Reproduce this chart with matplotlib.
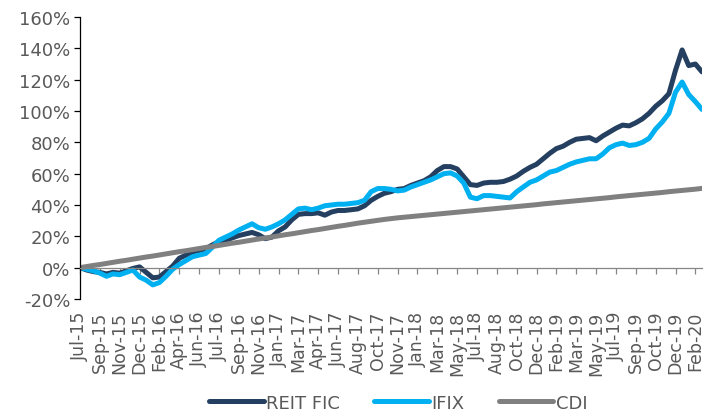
import matplotlib.pyplot as plt
from matplotlib.ticker import FuncFormatter

# cumulative return (%), one value every ~3 weeks, Jul-15 .. Feb-20
REIT_FIC = [
    0.0, -1.5, -2.5, -3.0, -4.0, -3.0, -3.5, -2.0, -0.5, 0.5,
    -3.0, -6.5, -6.0, -2.5, 1.0, 6.0, 8.0, 10.0, 11.0, 12.0,
    14.5, 16.5, 17.5, 19.0, 20.5, 21.5, 22.5, 21.0, 18.5, 19.5,
    23.5, 26.0, 30.5, 34.0, 34.5, 34.5, 35.0, 33.5, 35.5, 36.5,
    36.5, 37.0, 37.5, 39.5, 43.0, 45.5, 47.5, 48.5, 50.0, 50.5,
    52.5, 54.0, 55.5, 58.0, 62.0, 64.5, 64.5, 63.0, 58.0, 53.0,
    52.5, 54.0, 54.5, 54.5, 55.0, 56.5, 58.5, 61.5, 64.0, 66.0,
    69.5, 73.0, 76.0, 77.5, 80.0, 82.0, 82.5, 83.0, 81.0, 84.0,
    86.5, 89.0, 91.0, 90.5, 92.5, 95.0, 98.5, 103.0, 106.5, 111.0,
    126.0, 139.0, 129.0, 130.0, 125.0,
]
IFIX = [
    0.0, -1.0, -2.0, -3.5, -5.5, -4.0, -4.5, -3.0, -1.5, -6.0,
    -8.0, -11.0, -9.5, -5.5, -1.0, 2.0, 4.5, 7.0, 8.0, 9.0,
    13.0, 17.5, 19.5, 21.5, 24.0, 26.0, 28.0, 25.5, 24.5, 26.0,
    28.0, 30.5, 34.0, 37.5, 38.0, 37.0, 38.0, 39.5, 40.0, 40.5,
    40.5, 41.0, 41.5, 43.0, 48.5, 50.5, 50.5, 50.0, 49.0, 49.5,
    51.5, 53.0, 54.5, 56.0, 58.0, 60.0, 60.5, 58.5, 54.0, 45.0,
    44.0, 46.0, 46.0, 45.5, 45.0, 44.5, 48.5, 51.5, 54.5, 56.0,
    58.5, 61.0, 62.0, 64.0, 66.0, 67.5, 68.5, 69.5, 69.5, 72.5,
    76.5, 78.5, 79.5, 78.0, 78.5, 80.0, 82.5, 88.5, 93.0, 98.5,
    112.0, 118.5, 110.5, 106.0, 101.0,
]
CDI = [
    0.0, 0.7, 1.4, 2.0, 2.7, 3.4, 4.1, 4.7, 5.4, 6.1,
    6.8, 7.4, 8.1, 8.8, 9.5, 10.2, 10.8, 11.5, 12.2, 12.9,
    13.5, 14.2, 14.9, 15.6, 16.2, 16.9, 17.6, 18.3, 18.9, 19.6,
    20.3, 21.0, 21.6, 22.3, 23.0, 23.7, 24.3, 25.0, 25.7, 26.4,
    27.0, 27.7, 28.4, 29.0, 29.6, 30.2, 30.8, 31.3, 31.8, 32.2,
    32.6, 33.0, 33.4, 33.8, 34.2, 34.6, 35.0, 35.4, 35.8, 36.2,
    36.6, 37.0, 37.4, 37.8, 38.2, 38.6, 39.0, 39.4, 39.8, 40.2,
    40.7, 41.1, 41.5, 41.9, 42.3, 42.7, 43.1, 43.5, 43.9, 44.3,
    44.7, 45.2, 45.6, 46.0, 46.4, 46.8, 47.2, 47.6, 48.0, 48.5,
    48.9, 49.3, 49.7, 50.1, 50.6,
]
TICK_LABELS = [
    "Jul-15", "Sep-15", "Nov-15", "Dec-15", "Feb-16", "Apr-16", "Jun-16", "Jul-16",
    "Sep-16", "Nov-16", "Jan-17", "Mar-17", "Apr-17", "Jun-17", "Aug-17", "Oct-17",
    "Nov-17", "Jan-18", "Mar-18", "May-18", "Jul-18", "Aug-18", "Oct-18", "Dec-18",
    "Feb-19", "Mar-19", "May-19", "Jul-19", "Sep-19", "Oct-19", "Dec-19", "Feb-20",
]
TICK_EVERY = 3

x = list(range(len(REIT_FIC)))

fig = plt.figure(figsize=(7.05, 4.14), dpi=100)
ax = fig.add_axes([0.1135, 0.2754, 0.8822, 0.6811])

ax.plot(x, REIT_FIC, color="#243F60", linewidth=3.6, solid_capstyle="round", label="REIT FIC")
ax.plot(x, IFIX, color="#00B0F0", linewidth=3.6, solid_capstyle="round", label="IFIX")
ax.plot(x, CDI, color="#808080", linewidth=3.6, solid_capstyle="round", label="CDI")

# x axis line sits at 0%, labels stay at the bottom (set before the ticks,
# moving the spine resets them)
for spine in ("top", "right"):
    ax.spines[spine].set_visible(False)
ax.spines["bottom"].set_position(("data", 0))
ax.spines["bottom"].set_color("#868686")
ax.spines["bottom"].set_linewidth(0.9)
ax.spines["left"].set_color("#000000")
ax.spines["left"].set_linewidth(0.9)

ax.set_xlim(0, len(REIT_FIC) - 1)
ax.set_ylim(-20, 160)
ax.set_yticks(range(-20, 161, 20))
ax.yaxis.set_major_formatter(FuncFormatter(lambda v, _: f"{v:.0f}%"))

ax.set_xticks([i * TICK_EVERY for i in range(len(TICK_LABELS))])
ax.set_xticklabels(TICK_LABELS)

ax.tick_params(axis="y", direction="out", length=4, width=0.9, color="#000000",
               labelsize=13, labelcolor="#595959", pad=3)
ax.tick_params(axis="x", direction="out", length=4, width=0.9, color="#868686",
               labelsize=12.5, labelcolor="#595959", pad=27, labelrotation=90)

fig.legend(
    loc="center",
    bbox_to_anchor=(0.565, 0.025),
    ncol=3,
    frameon=False,
    fontsize=13,
    handlelength=3.0,
    handletextpad=0.15,
    columnspacing=1.9,
    labelcolor="#595959",
)

fig.savefig("out.png", dpi=100, facecolor="white")
